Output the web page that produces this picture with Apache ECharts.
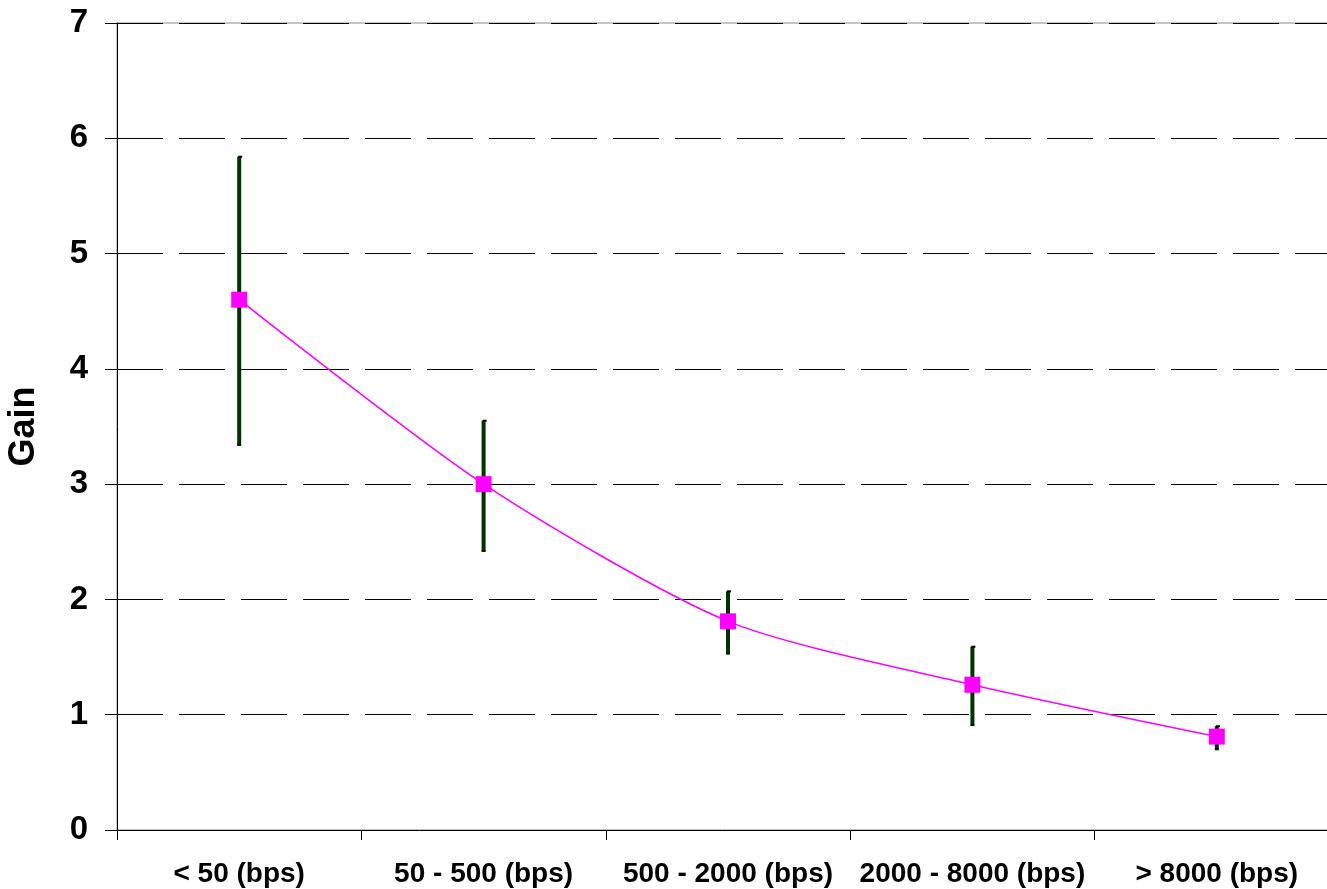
<!DOCTYPE html>
<html>
<head>
<meta charset="utf-8">
<title>Gain by bit rate</title>
<script src="https://cdn.jsdelivr.net/npm/echarts@6/dist/echarts.min.js"></script>
<style>
  html, body { margin: 0; padding: 0; background: #ffffff; }
  #chart { width: 1327px; height: 889px; }
</style>
</head>
<body>
<div id="chart"></div>
<script>
// Bit-rate classes along the horizontal axis
const categories = ['< 50 (bps)', '50 - 500 (bps)', '500 - 2000 (bps)', '2000 - 8000 (bps)', '> 8000 (bps)'];
// Mean gain for each class
const gainMean = [4.6, 3.0, 1.81, 1.26, 0.81];
// Upper and lower ends of the spread around each mean
const gainHigh = [5.84, 3.55, 2.07, 1.59, 0.90];
const gainLow = [3.34, 2.42, 1.53, 0.91, 0.70];
// Value axis range and step
const yMin = 0, yMax = 7, yStep = 1;

const font = 'Liberation Sans, Arial, Helvetica, sans-serif';

const errData = categories.map((c, i) => [i, gainLow[i], gainHigh[i]]);

const chart = echarts.init(document.getElementById('chart'), null, { renderer: 'canvas' });

chart.setOption({
  animation: false,
  backgroundColor: '#ffffff',
  grid: {
    left: 117, top: 23, width: 1222, height: 807,
    containLabel: false,
    outerBoundsMode: 'none',
    show: true, borderColor: '#8a8a8a', borderWidth: 1, backgroundColor: 'transparent'
  },
  xAxis: {
    type: 'category',
    data: categories,
    boundaryGap: true,
    axisLine: { lineStyle: { color: '#000', width: 1 } },
    axisTick: { show: true, inside: false, length: 10, interval: 0, lineStyle: { color: '#000', width: 1 } },
    axisLabel: { interval: 0, hideOverlap: false, margin: 30, color: '#000', fontFamily: font, fontWeight: 'bold', fontSize: 28 },
    splitLine: { show: false }
  },
  yAxis: {
    type: 'value',
    min: yMin, max: yMax, interval: yStep,
    name: 'Gain',
    nameLocation: 'middle',
    nameGap: 75,
    nameRotate: 90,
    nameTextStyle: { color: '#000', fontFamily: font, fontWeight: 'bold', fontSize: 36 },
    axisLine: { show: true, lineStyle: { color: '#000', width: 1 } },
    axisTick: { show: true, inside: false, length: 12, lineStyle: { color: '#000', width: 1 } },
    axisLabel: { margin: 29, color: '#000', fontFamily: font, fontWeight: 'bold', fontSize: 33 },
    splitLine: { show: true, lineStyle: { color: '#000', width: 1, type: [46, 16] } }
  },
  series: [
    {
      type: 'custom',
      name: 'spread',
      data: errData,
      z: 2,
      renderItem: function (params, api) {
        const x = api.value(0);
        const lo = api.coord([x, api.value(1)]);
        const hi = api.coord([x, api.value(2)]);
        return {
          type: 'group',
          children: [
            {
              type: 'rect',
              shape: { x: lo[0] - 2, y: hi[1], width: 4, height: lo[1] - hi[1] },
              style: { fill: '#003300' }
            },
            {
              type: 'rect',
              shape: { x: lo[0] - 1, y: hi[1] - 1, width: 4, height: 2 },
              style: { fill: '#000' }
            },
            {
              type: 'rect',
              shape: { x: lo[0] - 2, y: lo[1] - 1, width: 4, height: 2 },
              style: { fill: '#001a00' }
            }
          ]
        };
      }
    },
    {
      type: 'line',
      name: 'Gain',
      data: gainMean,
      smooth: 0.25,
      z: 3,
      lineStyle: { color: '#ff00ff', width: 1.5 },
      itemStyle: { color: '#ff00ff' },
      symbol: 'rect',
      symbolSize: 16,
      showSymbol: true
    }
  ]
});
</script>
</body>
</html>
